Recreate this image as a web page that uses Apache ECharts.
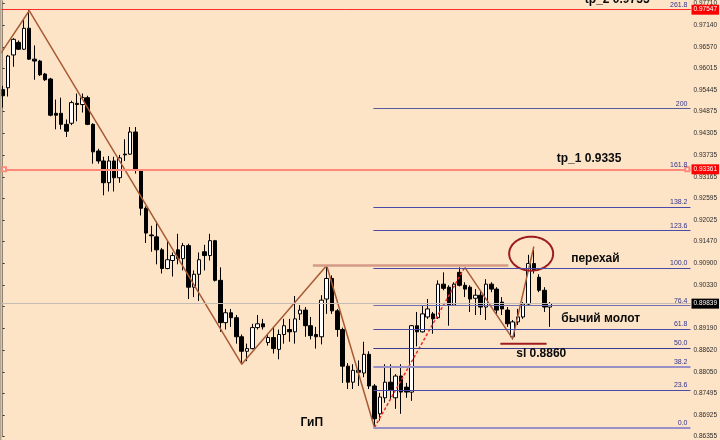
<!DOCTYPE html>
<html><head><meta charset="utf-8">
<script src="https://cdn.jsdelivr.net/npm/echarts@6/dist/echarts.min.js"></script>
<style>html,body{margin:0;padding:0;background:#fde4c6}#c{width:720px;height:440px}</style>
</head><body><div id="c"></div>
<script>
// ---- data ----
const slotCount = 130; // bar slots on the time axis (last ones are empty future space)
// [open, close, low, high]
const candleOCLH = [
[0.9545,0.9529,0.9498,0.9555],[0.9550,0.9633,0.9527,0.9636],[0.9636,0.9677,0.9605,0.9680],[0.9669,0.9651,0.9649,0.9674],
[0.9651,0.9706,0.9649,0.9729],[0.9706,0.9625,0.9623,0.9753],[0.9625,0.9620,0.9571,0.9661],[0.9620,0.9584,0.9581,0.9623],
[0.9586,0.9571,0.9568,0.9589],[0.9573,0.9478,0.9475,0.9576],[0.9483,0.9478,0.9441,0.9519],[0.9483,0.9454,0.9441,0.9524],
[0.9454,0.9436,0.9421,0.9467],[0.9457,0.9511,0.9452,0.9516],[0.9509,0.9506,0.9462,0.9535],[0.9506,0.9524,0.9485,0.9535],
[0.9524,0.9454,0.9452,0.9529],[0.9454,0.9382,0.9351,0.9457],[0.9384,0.9358,0.9351,0.9390],[0.9358,0.9301,0.9268,0.9369],
[0.9301,0.9358,0.9278,0.9371],[0.9358,0.9314,0.9278,0.9369],[0.9314,0.9366,0.9301,0.9374],[0.9376,0.9374,0.9358,0.9415],
[0.9376,0.9434,0.9374,0.9447],[0.9434,0.9333,0.9325,0.9447],[0.9333,0.9234,0.9215,0.9336],[0.9234,0.9169,0.9143,0.9239],
[0.9164,0.9162,0.9120,0.9188],[0.9159,0.9125,0.9087,0.9200],[0.9125,0.9076,0.9063,0.9130],[0.9076,0.9099,0.9074,0.9149],
[0.9097,0.9110,0.9055,0.9118],[0.9125,0.9102,0.9087,0.9167],[0.9102,0.9136,0.9071,0.9143],[0.9136,0.9027,0.8996,0.9141],
[0.9027,0.9061,0.9001,0.9071],[0.9061,0.9099,0.8991,0.9118],[0.9120,0.9110,0.9071,0.9138],[0.9110,0.9149,0.9097,0.9167],
[0.9149,0.9045,0.9042,0.9151],[0.9045,0.8934,0.8910,0.9079],[0.8934,0.8960,0.8916,0.8970],[0.8960,0.8947,0.8923,0.8970],
[0.8947,0.8897,0.8879,0.8954],[0.8897,0.8859,0.8825,0.8903],[0.8859,0.8866,0.8833,0.8879],[0.8866,0.8921,0.8864,0.8931],
[0.8921,0.8931,0.8916,0.8954],[0.8931,0.8923,0.8916,0.8944],[0.8882,0.8895,0.8874,0.8905],[0.8895,0.8866,0.8853,0.8923],
[0.8864,0.8903,0.8838,0.8916],[0.8903,0.8926,0.8879,0.8944],[0.8916,0.8910,0.8884,0.8944],[0.8910,0.8944,0.8879,0.9004],
[0.8957,0.8967,0.8941,0.8980],[0.8967,0.8926,0.8897,0.8975],[0.8926,0.8900,0.8890,0.8949],[0.8903,0.8897,0.8866,0.8923],
[0.8897,0.8993,0.8877,0.9006],[0.8996,0.9050,0.8957,0.9084],[0.9050,0.8965,0.8957,0.9058],[0.8965,0.8916,0.8897,0.8970],
[0.8916,0.8820,0.8776,0.8921],[0.8820,0.8778,0.8760,0.8828],[0.8778,0.8809,0.8760,0.8825],[0.8809,0.8804,0.8768,0.8835],
[0.8802,0.8851,0.8791,0.8884],[0.8851,0.8768,0.8760,0.8859],[0.8768,0.8682,0.8659,0.8773],[0.8695,0.8739,0.8677,0.8750],
[0.8737,0.8778,0.8724,0.8825],[0.8778,0.8758,0.8734,0.8825],[0.8737,0.8794,0.8708,0.8799],[0.8794,0.8752,0.8695,0.8825],
[0.8765,0.8752,0.8737,0.8776],[0.8752,0.8926,0.8729,0.8928],[0.8926,0.8910,0.8872,0.8962],[0.8910,0.8957,0.8908,0.8980],
[0.8949,0.8970,0.8944,0.8996],[0.8957,0.8944,0.8905,0.8962],[0.8947,0.9035,0.8944,0.9045],[0.9035,0.9024,0.9019,0.9066],
[0.9027,0.8980,0.8926,0.9032],[0.8980,0.9035,0.8978,0.9040],[0.9066,0.9032,0.9029,0.9079],[0.9032,0.9022,0.9001,0.9040],
[0.9027,0.8996,0.8962,0.9032],[0.8998,0.9006,0.8954,0.9022],[0.9006,0.8975,0.8954,0.9019],[0.8975,0.9035,0.8941,0.9048],
[0.9035,0.9022,0.9014,0.9040],[0.9022,0.8967,0.8954,0.9027],[0.8988,0.8970,0.8954,0.9001],[0.8967,0.8931,0.8923,0.8975],
[0.8897,0.8936,0.8890,0.8941],[0.8936,0.8949,0.8928,0.8970],[0.8949,0.8983,0.8944,0.8988],[0.8983,0.9089,0.8980,0.9112],
[0.9089,0.9071,0.9063,0.9133],[0.9053,0.9019,0.9014,0.9061],[0.9019,0.8975,0.8962,0.9027],[0.8975,0.8984,0.8923,0.8988]
];
const yTicks = [0.97710,0.97140,0.96570,0.96015,0.95445,0.94875,0.94305,0.93735,0.93165,0.92595,0.92025,
                0.91470,0.90900,0.90330,0.89760,0.89190,0.88620,0.88050,0.87495,0.86925,0.86355];
// zigzag pivots [bar index, price]
const zigzagA = [[-0.32,0.9641],[5,0.9752],[45,0.8825],[61,0.9084],[70,0.8659]];
const zigzagDash = [[70,0.8659],[87,0.9079]];
const zigzagB = [[87,0.9079],[96,0.8892],[100,0.9133]];
const shoulderLine = [[58.4,0.9084],[95.2,0.9084]];
const slLine = [[93.7,0.8879],[102.4,0.8879]];
// fibonacci grid
const fibNames = ['0.0','23.6','38.2','50.0','61.8','76.4','100.0','123.6','138.2','161.8','200','261.8'];
const fibRatios = [0,23.6,38.2,50,61.8,76.4,100,123.6,138.2,161.8,200,261.8];
const fibBase = 0.86588, fibTop = 0.90774, fibStartBar = 69.8;
const tp2Price = 0.97547, tp1Price = 0.93361, bidPrice = 0.89839;
// text annotations [bar index, price, text]
const annotations = [
  [115.7,0.9781,'tp_2 0.9755'],
  [110.4,0.9365,'tp_1 0.9335'],
  [111.6,0.9102,'перехай'],
  [112.6,0.8944,'бычий молот'],
  [101.4,0.8853,'sl 0.8860'],
  [58.2,0.8672,'ГиП']
];
const circleMark = [[99.5,0.9115]];

// ---- styles ----
const fibColors = ['#9a90c8','#4a4aa8','#9a90c8','#3a3a90','#4a4aa8','#7070b0','#4a4aa8','#4a4aa8','#4a4aa8','#ff8a7a','#5a5a9a','#ff2a2a'];
const fibWidths = [2,1,2,1,1,1,1,1,1,2,1,1];
const endBar = slotCount - 0.5;
const fibPrice = r => fibBase + r / 100 * (fibTop - fibBase);

const markLines = fibRatios.map((r, k) => [
  {coord:[fibStartBar, fibPrice(r)], lineStyle:{color:fibColors[k], width:fibWidths[k], type:'solid'},
   label:{show:true, position:'insideEndTop', formatter:fibNames[k], color:'#34348a', fontSize:7,
          fontFamily:'Liberation Sans', distance:[3,1]}},
  {coord:[endBar, fibPrice(r)]}
]);
function priceLine(p, color, width, boxColor) {
  return [
    {coord:[-0.5, p], lineStyle:{color:color, width:width, type:'solid'},
     label:{show:true, position:'end', formatter:p.toFixed(5), color:'#fff', backgroundColor:boxColor,
            fontSize:6.5, fontFamily:'Liberation Sans', padding:[2,2,1,2], distance:1}},
    {coord:[endBar, p]}
  ];
}
markLines.push(priceLine(tp2Price, '#ff2a2a', 1, '#ff0000'));
markLines.push(priceLine(tp1Price, '#ff8a7a', 2, '#ff0000'));
markLines.push(priceLine(bidPrice, '#c4bcb4', 1, '#000000'));
markLines.push([
  {coord:[0.25, tp1Price], symbol:'emptyRect', symbolSize:4, lineStyle:{color:'#ff8a7a', width:2}, label:{show:false}},
  {coord:[128.9, tp1Price], symbol:'emptyRect', symbolSize:4}
]);

const chart = echarts.init(document.getElementById('c'), null, {renderer:'canvas'});
const option = {
  backgroundColor:'#fde4c6',
  animation:false,
  grid:{left:-1, right:29, top:0, bottom:0},
  graphic:[{type:'rect', shape:{x:0, y:0, width:1.5, height:440}, style:{fill:'#b4a490'}, silent:true, z:10}],
  xAxis:[
    {type:'category', data:Array.from({length:slotCount}, (_, i) => String(i)), show:false, boundaryGap:true},
    {type:'value', min:-0.5, max:endBar, show:false}
  ],
  yAxis:{
    type:'value', position:'right', min:0.86355, max:0.9778, scale:true,
    axisLine:{show:true, lineStyle:{color:'#8f8373', width:1}},
    axisTick:{show:true, length:2, customValues:yTicks, lineStyle:{color:'#333'}},
    axisLabel:{show:true, customValues:yTicks, formatter:v => v.toFixed(5), fontSize:6.5, color:'#2a2a2a',
               margin:3, fontFamily:'Liberation Sans'},
    splitLine:{show:false}
  },
  series:[
    {type:'candlestick', xAxisIndex:0, yAxisIndex:0, data:candleOCLH, barWidth:4,
     itemStyle:{color:'#ffffff', color0:'#000000', borderColor:'#000000', borderColor0:'#000000', borderWidth:1}},
    {type:'line', xAxisIndex:1, data:zigzagA, symbol:'none', lineStyle:{color:'#a85a35', width:1.5}, z:3,
     markLine:{silent:true, symbol:['none','none'], data:markLines}},
    {type:'line', xAxisIndex:1, data:zigzagDash, symbol:'none', lineStyle:{color:'#e8302a', width:1.5, type:[3,2]}, z:3},
    {type:'line', xAxisIndex:1, data:zigzagB, symbol:'none', lineStyle:{color:'#a85a35', width:1.5}, z:3},
    {type:'line', xAxisIndex:1, data:shoulderLine, symbol:'none', lineStyle:{color:'#d49a86', width:2.5}, z:3},
    {type:'line', xAxisIndex:1, data:slLine, symbol:'none', lineStyle:{color:'#a01c1c', width:2}, z:3},
    {type:'custom', xAxisIndex:1, data:circleMark, z:4,
     renderItem:(params, api) => {
       const c = api.coord([api.value(0), api.value(1)]);
       const pts = [];
       for (let k = 0; k < 64; k++) { const a = k / 64 * Math.PI * 2; pts.push([c[0] + 22 * Math.cos(a), c[1] + 17 * Math.sin(a)]); }
       return {type:'polygon', shape:{points:pts}, style:{fill:'none', stroke:'#9b1d1d', lineWidth:2}};
     }},
    {type:'custom', xAxisIndex:1, data:annotations.map(a => [a[0], a[1]]), z:6, clip:false,
     renderItem:(params, api) => {
       const c = api.coord([api.value(0), api.value(1)]);
       return {type:'text', x:c[0], y:c[1],
               style:{text:annotations[params.dataIndex][2], fill:'#0a0a0a', align:'center', verticalAlign:'middle',
                      font:'bold 12px "Liberation Sans", Arial, sans-serif'}};
     }}
  ]
};
chart.setOption(option);
</script></body></html>
